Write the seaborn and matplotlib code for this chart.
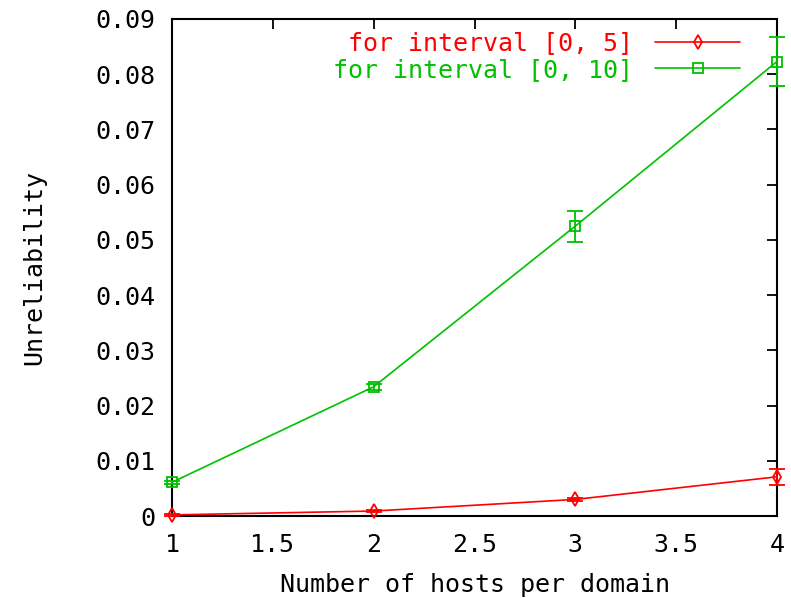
import matplotlib
matplotlib.use("Agg")
import matplotlib.pyplot as plt
import seaborn as sns
import pandas as pd
from matplotlib.lines import Line2D

hosts = [1, 2, 3, 4]
unrel_5 = [0.0002, 0.0009, 0.0030, 0.0071]
err_5 = [0.0002, 0.0002, 0.0003, 0.0015]
unrel_10 = [0.0061, 0.0234, 0.0525, 0.0823]
err_10 = [0.0003, 0.0005, 0.0028, 0.0044]
labels = ["for interval [0, 5]", "for interval [0, 10]"]
xticks = [1, 1.5, 2, 2.5, 3, 3.5, 4]
yticks = [0, 0.01, 0.02, 0.03, 0.04, 0.05, 0.06, 0.07, 0.08, 0.09]

RED = "#ff0000"
GREEN = "#00c000"
FS = 18

sns.set_theme(style="white")
plt.rcParams["font.family"] = ["DejaVu Sans Mono"]
plt.rcParams["text.color"] = "black"
plt.rcParams["axes.labelcolor"] = "black"

df = pd.concat([
    pd.DataFrame({"hosts": hosts, "value": unrel_5, "series": labels[0]}),
    pd.DataFrame({"hosts": hosts, "value": unrel_10, "series": labels[1]}),
])

fig = plt.figure(figsize=(7.91, 5.98), dpi=100)
ax = fig.add_axes([172 / 791, 82 / 598, 605 / 791, 497 / 598])

sns.lineplot(data=df, x="hosts", y="value", hue="series", style="series",
             palette=[RED, GREEN], markers=["d", "s"], dashes=False,
             markersize=7, markerfacecolor="none", markeredgewidth=1.3,
             linewidth=1.2, legend=False, ax=ax)
for c in ax.lines:
    c.set_markeredgecolor(c.get_color())
    c.set_clip_on(False)
    c.set_zorder(4)

# error bars drawn above the frame so the ones at x=4 stay visible
for ys, es, col in [(unrel_5, err_5, RED), (unrel_10, err_10, GREEN)]:
    eb = ax.errorbar(hosts, ys, yerr=es, fmt="none", ecolor=col,
                     elinewidth=1.3, capsize=6, capthick=1.3, zorder=4)
    for art in list(eb.lines[1]) + list(eb.lines[2]):
        art.set_clip_on(False)
        art.set_zorder(4)

ax.set_xlim(1, 4)
ax.set_ylim(0, 0.09)
ax.set_xticks(xticks)
ax.set_xticklabels([f"{t:g}" for t in xticks])
ax.set_yticks(yticks)
ax.set_yticklabels([f"{t:g}" if t == 0 else f"{t:.2f}" for t in yticks])
ax.tick_params(direction="in", length=7, width=1.3, top=True, right=True,
               labelsize=FS, pad=12, colors="black")
for s in ax.spines.values():
    s.set_color("black")
    s.set_linewidth(1.5)

ax.set_xlabel("Number of hosts per domain", fontsize=FS, labelpad=12)
ax.set_ylabel("Unreliability", fontsize=FS, labelpad=35)

handles = [
    Line2D([], [], color=RED, marker="d", markersize=7, markerfacecolor="none",
           markeredgewidth=1.3, linewidth=1.2),
    Line2D([], [], color=GREEN, marker="s", markersize=7, markerfacecolor="none",
           markeredgewidth=1.3, linewidth=1.2),
]
ax.legend(handles, labels, loc="upper right", bbox_to_anchor=(0.939, 0.975),
          borderaxespad=0, borderpad=0,
          frameon=False, markerfirst=False, handlelength=3.4,
          fontsize=FS, labelcolor="linecolor", labelspacing=0.1,
          handletextpad=0.9)

fig.savefig("out.png", dpi=100)
